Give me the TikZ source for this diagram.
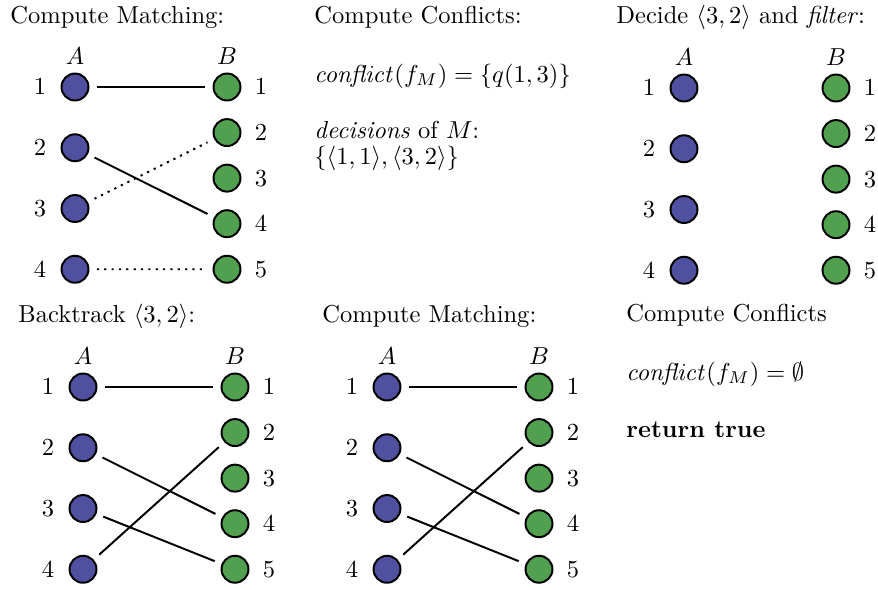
\documentclass[tikz,border=0pt]{standalone}
\usepackage{amsmath,amssymb}
\definecolor{nodeblue}{RGB}{80,80,160}
\definecolor{nodegreen}{RGB}{80,160,80}
\tikzset{
  anode/.style={circle,draw=black,line width=0.8pt,fill=nodeblue,minimum size=11pt,inner sep=0pt},
  bnode/.style={circle,draw=black,line width=0.8pt,fill=nodegreen,minimum size=11pt,inner sep=0pt},
  num/.style={inner sep=0pt},
  hdr/.style={inner sep=0pt},
  txt/.style={anchor=base west,inner sep=0pt},
  edge/.style={line width=0.8pt,shorten <=3pt,shorten >=3pt},
  dotedge/.style={edge,dash pattern=on 0.9pt off 2.1pt}
}
\newcommand\bipgraph[3]{%
  \node[hdr] (#1A) at (#2,#3-31) {$A$};
  \node[hdr] (#1B) at (#2+152,#3-31) {$B$};
  \foreach \i in {1,...,4}{%
    \node[anode] (#1a\i) at (#2,{#3+(\i-1)*60.75}) {};
    \node[num] (#1la\i) at (#2-35,{#3+(\i-1)*60.75}) {$\i$};
  }%
  \foreach \j in {1,...,5}{%
    \node[bnode] (#1b\j) at (#2+152,{#3+(\j-1)*45.56}) {};
    \node[num] (#1lb\j) at (#2+186,{#3+(\j-1)*45.56}) {$\j$};
  }%
}
\begin{document}
\begin{tikzpicture}[x=0.408pt,y=-0.408pt]
\useasboundingbox (0,0) rectangle (878,589);
% panel 1
\node[txt] (t1) at (10,23) {Compute Matching:};
\bipgraph{p}{75}{87}
\draw[edge] (pa1) -- (pb1);
\draw[edge] (pa2) -- (pb4);
\draw[dotedge] (pa3) -- (pb2);
\draw[dotedge] (pa4) -- (pb5);
% panel 2
\node[txt] (t2) at (314,23) {Compute Conflicts:};
\node[txt] (c2) at (314,82) {$\mathit{conflict}(f_M)=\{q(1,3)\}$};
\node[txt] (d2) at (314,138) {\textit{decisions} of $M$:};
\node[txt] (e2) at (314,164) {$\{\langle 1,1\rangle,\langle 3,2\rangle\}$};
% panel 3
\node[txt] (t3) at (616,23) {Decide $\langle 3,2\rangle$ and \textit{filter}:};
\bipgraph{q}{684}{88}
% panel 4
\node[txt] (t4) at (18,322) {Backtrack $\langle 3,2\rangle$:};
\bipgraph{r}{83}{387}
\draw[edge] (ra1) -- (rb1);
\draw[edge] (ra2) -- (rb4);
\draw[edge] (ra3) -- (rb5);
\draw[edge] (ra4) -- (rb2);
% panel 5
\node[txt] (t5) at (322,322) {Compute Matching:};
\bipgraph{s}{387}{387}
\draw[edge] (sa1) -- (sb1);
\draw[edge] (sa2) -- (sb4);
\draw[edge] (sa3) -- (sb5);
\draw[edge] (sa4) -- (sb2);
% panel 6
\node[txt] (t6) at (626,321) {Compute Conflicts};
\node[txt] (c6) at (626,380) {$\mathit{conflict}(f_M)=\emptyset$};
\node[txt] (r6) at (626,437) {\textbf{return true}};
\end{tikzpicture}
\end{document}
